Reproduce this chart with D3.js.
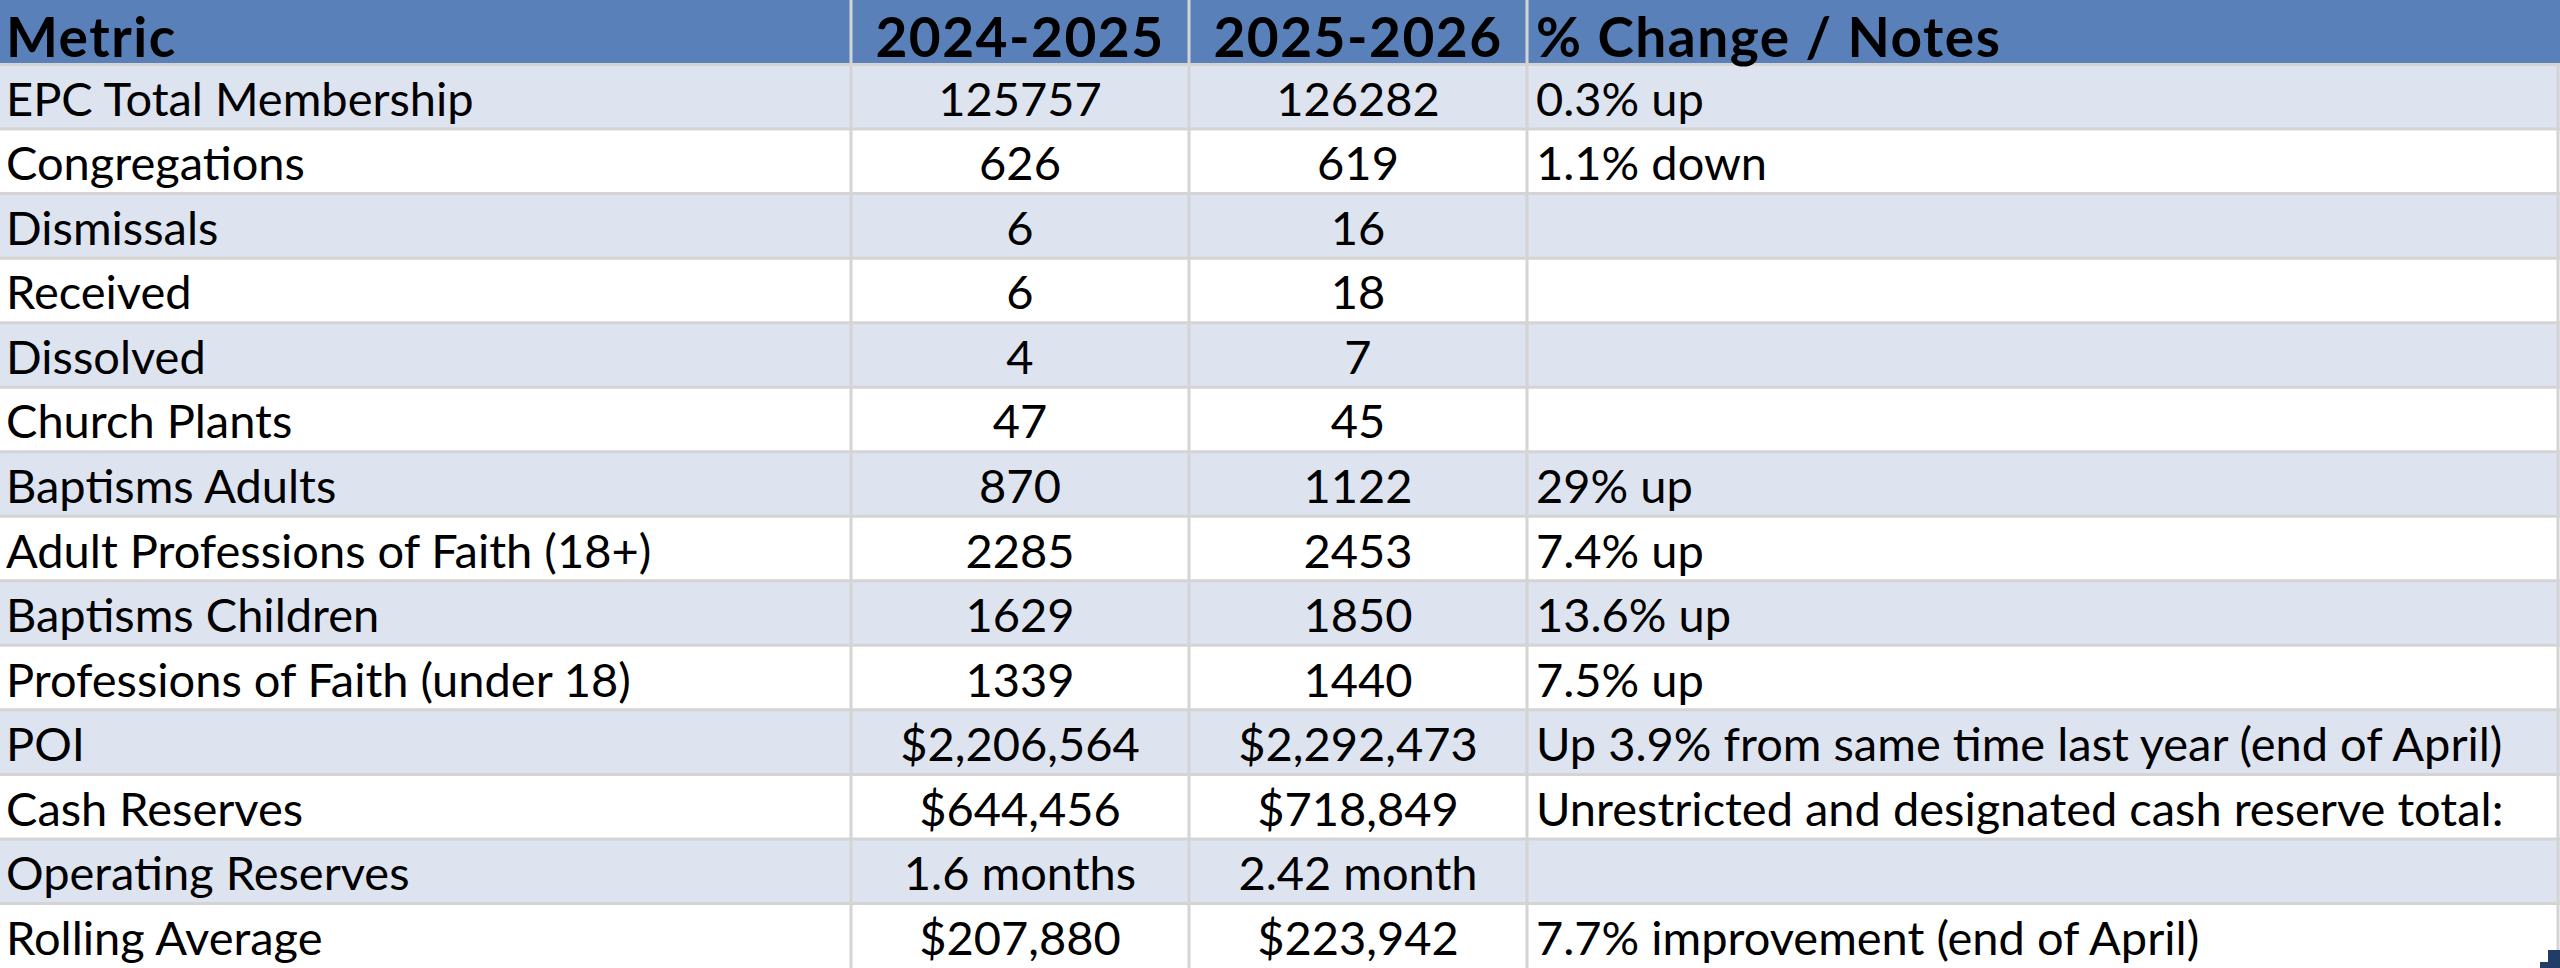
<!DOCTYPE html>
<html lang="en">
<head>
<meta charset="utf-8">
<title>EPC Metrics</title>
<script src="https://cdn.jsdelivr.net/npm/d3@7/dist/d3.min.js"></script>
<style>
  body { margin: 0; background: #fff; }
  text { font-family: Lato, "Open Sans", sans-serif; fill: #000; }
</style>
</head>
<body>
<div id="bod"></div>
<script>
// table contents
const headers = ["Metric", "2024-2025", "2025-2026", "% Change / Notes"];
const metrics = [
  "EPC Total Membership", "Congregations", "Dismissals", "Received", "Dissolved",
  "Church Plants", "Baptisms Adults", "Adult Professions of Faith (18+)",
  "Baptisms Children", "Professions of Faith (under 18)", "POI", "Cash Reserves",
  "Operating Reserves", "Rolling Average"
];
const year2024 = ["125757", "626", "6", "6", "4", "47", "870", "2285", "1629", "1339",
  "$2,206,564", "$644,456", "1.6 months", "$207,880"];
const year2025 = ["126282", "619", "16", "18", "7", "45", "1122", "2453", "1850", "1440",
  "$2,292,473", "$718,849", "2.42 month", "$223,942"];
const notes = ["0.3% up", "1.1% down", "", "", "", "", "29% up", "7.4% up", "13.6% up",
  "7.5% up", "Up 3.9% from same time last year (end of April)",
  "Unrestricted and designated cash reserve total:", "", "7.7% improvement (end of April)"];

let w = 2560
let h = 968
let colEdges = [0, 851, 1189, 1527, w]

let svg = d3.select("#bod").append("svg")
  .attr("width", w)
  .attr("height", h);

let rows = metrics.map((m, i) => [m, year2024[i], year2025[i], notes[i]]);

let y = d3.scaleBand()
  .domain(d3.range(rows.length + 1))
  .range([0, h]);

let x = d3.scaleOrdinal()
  .domain(d3.range(4))
  .range(colEdges.slice(0, 4));
let colW = i => colEdges[i + 1] - colEdges[i];

// header band
svg.append("rect")
  .attr("x", 0).attr("y", y(0))
  .attr("width", w).attr("height", y.bandwidth())
  .attr("fill", "#5a80b9");

// striped body rows
svg.selectAll("rect.row")
  .data(rows)
  .join("rect")
  .attr("class", "row")
  .attr("x", 0)
  .attr("y", (d, i) => y(i + 1))
  .attr("width", w)
  .attr("height", y.bandwidth())
  .attr("fill", (d, i) => i % 2 == 0 ? "#dde3ef" : "#ffffff");

// grid lines
let grid = svg.append("g").attr("stroke", "#d4d4d4").attr("stroke-width", 3);
grid.selectAll("line.h")
  .data(d3.range(1, rows.length + 1))
  .join("line")
  .attr("x1", 0).attr("x2", w)
  .attr("y1", d => y(d)).attr("y2", d => y(d));
grid.selectAll("line.v")
  .data([1, 2, 3])
  .join("line")
  .attr("x1", d => x(d)).attr("x2", d => x(d))
  .attr("y1", 0).attr("y2", h);
grid.append("line")
  .attr("x1", w - 2).attr("x2", w - 2)
  .attr("y1", y(1)).attr("y2", h);

// cell text position: first and last column left aligned, numbers centered
function tx(c) {
  if (c == 0) return x(c) + 6;
  if (c == 3) return x(c) + 9;
  return x(c) + colW(c) / 2;
}
function anchor(c) { return (c == 0 || c == 3) ? "start" : "middle"; }

svg.append("g").selectAll("text")
  .data(headers)
  .join("text")
  .attr("x", (d, c) => tx(c))
  .attr("y", y(0) + y.bandwidth() / 2 + 4)
  .attr("dominant-baseline", "central")
  .attr("text-anchor", (d, c) => anchor(c))
  .attr("font-size", 55)
  .attr("letter-spacing", 1.5)
  .attr("font-weight", "bold")
  .text(d => d);

let body = svg.append("g").selectAll("g")
  .data(rows)
  .join("g")
  .attr("transform", (d, i) => "translate(0," + (y(i + 1) + y.bandwidth() / 2 + 1) + ")");

body.selectAll("text")
  .data(d => d)
  .join("text")
  .attr("x", (d, c) => tx(c))
  .attr("dominant-baseline", "central")
  .attr("text-anchor", (d, c) => anchor(c))
  .attr("font-size", 47)
  .text(d => d);

// table resize handle in the corner
svg.append("path")
  .attr("d", "M" + (w - 20) + "," + h + "V" + (h - 6) + "H" + (w - 12) + "V" + (h - 18) + "H" + w + "V" + h + "Z")
  .attr("fill", "#1f3d66");
</script>
</body>
</html>
